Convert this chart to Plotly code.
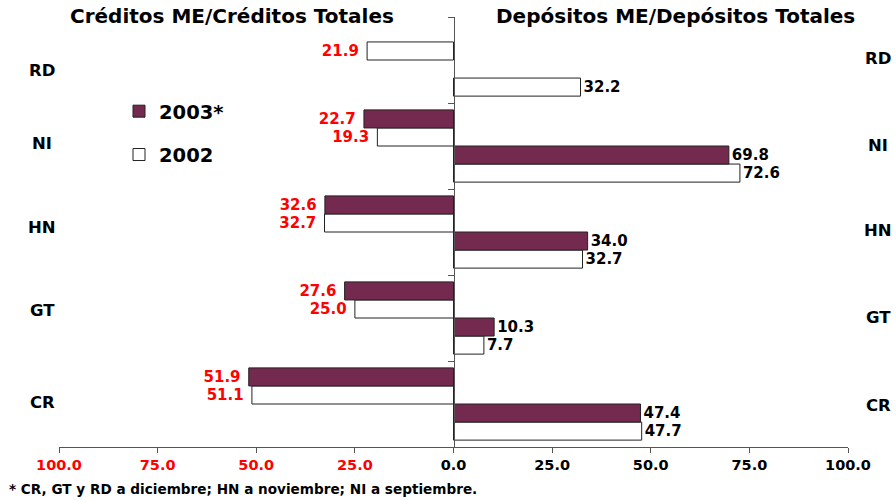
import plotly.graph_objects as go

countries = ["CR", "GT", "HN", "NI", "RD"]  # bottom to top
credit_2003 = [51.9, 27.6, 32.6, 22.7, None]
credit_2002 = [51.1, 25.0, 32.7, 19.3, 21.9]
dep_2003 = [47.4, 10.3, 34.0, 69.8, None]
dep_2002 = [47.7, 7.7, 32.7, 72.6, 32.2]

tick_vals = [-100, -75, -50, -25, 0, 25, 50, 75, 100]
tick_text = ["100.0", "75.0", "50.0", "25.0", "0.0", "25.0", "50.0", "75.0", "100.0"]

FONT = "DejaVu Sans, Verdana, sans-serif"
C2003 = "#74294f"
LINE = "#222222"

W, H = 896, 500
ML, MR, MT, MB = 59, 48, 17, 53
PW, PH = W - ML - MR, H - MT - MB

# vertical nudges (px) of the left-hand country labels, as in the reference
LEFT_LABEL_SHIFT = [2, 8, 5, 3, -10]
RIGHT_LABEL_SHIFT = [-1, 1, 2, 1, 2]


def px_x(p):
    return (p - ML) / PW


def px_y(p):
    return (H - MB - p) / PH


def neg(vals):
    return [None if v is None else -v for v in vals]


def labels(vals, pad=""):
    return ["" if v is None else f"{v:.1f}{pad}" for v in vals]


fig = go.Figure()
# order: bottom slot first
fig.add_trace(go.Bar(y=countries, x=dep_2002, orientation="h", name="2002",
                     marker=dict(color="white", line=dict(color=LINE, width=1)),
                     text=labels(dep_2002), textposition="outside",
                     textfont=dict(color="black", size=15, family=FONT, weight="bold"),
                     showlegend=False, cliponaxis=False))
fig.add_trace(go.Bar(y=countries, x=dep_2003, orientation="h", name="2003*",
                     marker=dict(color=C2003, line=dict(color=LINE, width=1)),
                     text=labels(dep_2003), textposition="outside",
                     textfont=dict(color="black", size=15, family=FONT, weight="bold"),
                     showlegend=False, cliponaxis=False))
fig.add_trace(go.Bar(y=countries, x=neg(credit_2002), orientation="h", name="2002",
                     marker=dict(color="white", line=dict(color=LINE, width=1)),
                     text=labels(credit_2002, "\u00a0"), textposition="outside",
                     textfont=dict(color="red", size=15, family=FONT, weight="bold"),
                     legendgroup="b", legendrank=2, cliponaxis=False))
fig.add_trace(go.Bar(y=countries, x=neg(credit_2003), orientation="h", name="2003*",
                     marker=dict(color=C2003, line=dict(color=LINE, width=1)),
                     text=labels(credit_2003, "\u00a0"), textposition="outside",
                     textfont=dict(color="red", size=15, family=FONT, weight="bold"),
                     legendgroup="a", legendrank=1, cliponaxis=False))

ticktext_col = [f'<span style="color:{"red" if v < 0 else "black"}">{t}</span>'
                for v, t in zip(tick_vals, tick_text)]

fig.update_layout(
    width=W, height=H,
    margin=dict(l=ML, r=MR, t=MT, b=MB),
    paper_bgcolor="white", plot_bgcolor="white",
    barmode="group", bargap=0.16, bargroupgap=0,
    font=dict(family=FONT, color="black"),
    xaxis=dict(range=[-100, 100], tickvals=tick_vals, ticktext=ticktext_col,
               showgrid=False, zeroline=False, showline=True, linecolor="#555555",
               linewidth=1, ticks="outside", ticklen=5, tickcolor="#555555",
               tickfont=dict(size=14.5, family=FONT, weight="bold"), fixedrange=True),
    yaxis=dict(anchor="free", position=0.5, showline=True, linecolor="#555555",
               ticks="outside", tickson="boundaries", ticklen=6, tickcolor="#555555",
               showticklabels=False, showgrid=False, zeroline=False,
               range=[-0.5, 4.5], fixedrange=True),
    legend=dict(x=px_x(119), y=px_y(92), xanchor="left", yanchor="top",
                font=dict(size=19.5, family=FONT, weight="bold"),
                tracegroupgap=15, traceorder="grouped", bgcolor="rgba(0,0,0,0)"),
    showlegend=True,
)

for i, c in enumerate(countries):
    fig.add_annotation(x=px_x(42), xref="paper", y=i, yref="y", text=c,
                       showarrow=False, xanchor="center", yshift=LEFT_LABEL_SHIFT[i],
                       font=dict(size=16.5, family=FONT, weight="bold"))
    fig.add_annotation(x=px_x(878), xref="paper", y=i, yref="y", text=c,
                       showarrow=False, xanchor="center", yshift=RIGHT_LABEL_SHIFT[i],
                       font=dict(size=16.5, family=FONT, weight="bold"))

fig.add_annotation(x=px_x(232), xref="paper", y=px_y(16), yref="paper",
                   text="Créditos ME/Créditos Totales", showarrow=False,
                   xanchor="center", yanchor="middle",
                   font=dict(size=20, family=FONT, weight="bold"))
fig.add_annotation(x=px_x(675), xref="paper", y=px_y(16), yref="paper",
                   text="Depósitos ME/Depósitos Totales", showarrow=False,
                   xanchor="center", yanchor="middle",
                   font=dict(size=20, family=FONT, weight="bold"))
fig.add_annotation(x=px_x(7), xref="paper", y=px_y(489), yref="paper",
                   text="* CR, GT y RD a diciembre; HN a noviembre; NI a septiembre.",
                   showarrow=False, xanchor="left", yanchor="middle",
                   font=dict(size=13.6, family=FONT, weight="bold"))

fig.write_html("out.html", config={"displayModeBar": False},
               post_script="document.body.style.margin='0';document.body.style.padding='0';")
